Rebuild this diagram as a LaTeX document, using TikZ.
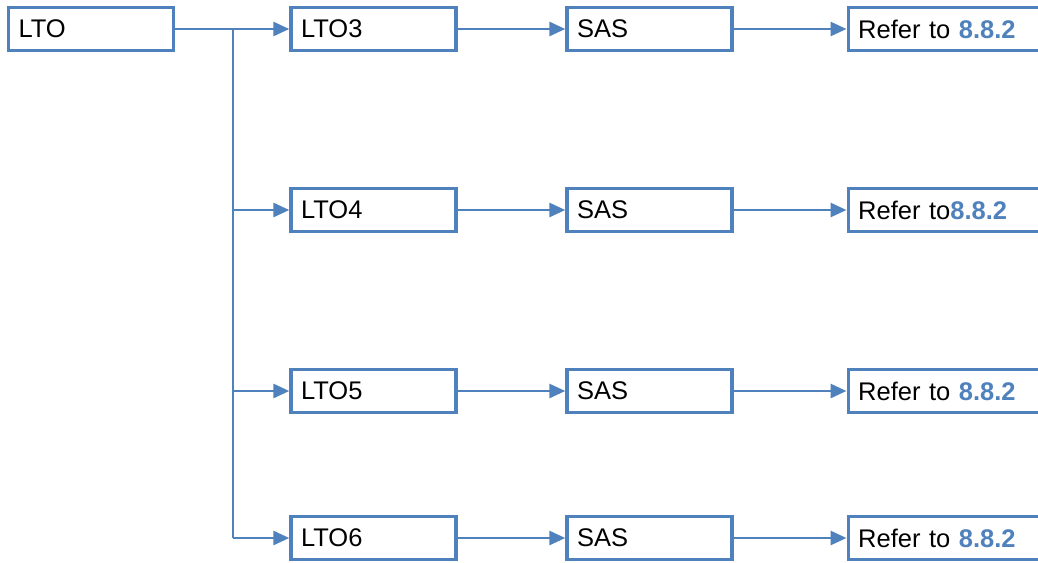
\documentclass[tikz,border=0pt]{standalone}
\usepackage{fontspec}
\setmainfont{Liberation Sans}
\usetikzlibrary{arrows.meta}
\definecolor{obl}{HTML}{4F81BD}
\begin{document}
\begin{tikzpicture}[x=1pt,y=-1pt,
  box/.style={draw=obl,line width=3.4pt,fill=white,minimum height=43pt,
    text width=145pt,inner xsep=10pt,inner ysep=0pt,align=left,
    font=\fontsize{25.5}{28}\selectfont},
  rbox/.style={box,text width=195pt},
  conn/.style={draw=obl,line width=2.8pt,-{Triangle[length=16pt,width=14pt]}},
  trunk/.style={draw=obl,line width=2.8pt}]
\useasboundingbox (0,0) rectangle (1038,562);
\newcommand{\hl}{\textcolor{obl}{\textbf{8.8.2}}}
\node[box] (lto) at (91,29) {LTO};
\foreach \r/\y/\t/\sp in {3/29/LTO3/{ }, 4/210/LTO4/{}, 5/391/LTO5/{ }, 6/538/LTO6/{ }}{
  \node[box] (l\r) at (373.5,\y) {\t};
  \node[box] (s\r) at (649.5,\y) {SAS};
  \node[rbox,anchor=west] (f\r) at (846.5,\y) {Refer to\sp\hl};
  \draw[conn] (l\r) -- (s\r);
  \draw[conn] (s\r) -- (f\r);
}
\coordinate (b3) at (233,29);
\coordinate (b4) at (233,210);
\coordinate (b5) at (233,391);
\coordinate (b6) at (233,538);
\draw[conn] (lto) -- (l3);
\draw[trunk] (b3) -- (b6);
\draw[conn] (b4) -- (l4);
\draw[conn] (b5) -- (l5);
\draw[conn] (b6) -- (l6);
\end{tikzpicture}
\end{document}
